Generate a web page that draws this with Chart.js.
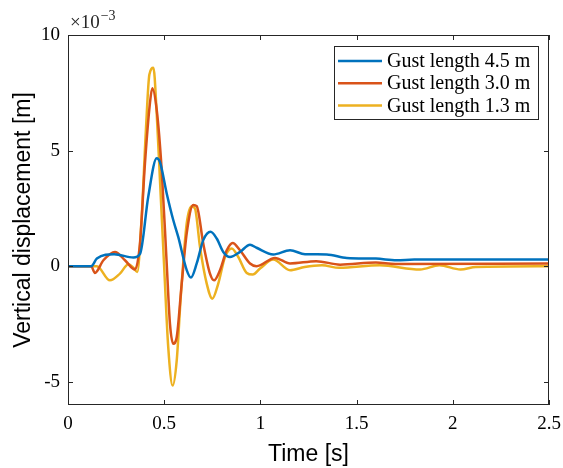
<!DOCTYPE html>
<html>
<head>
<meta charset="utf-8">
<script src="https://cdn.jsdelivr.net/npm/chart.js@4.4.0/dist/chart.umd.min.js"></script>
<style>
    html, body { margin: 0; padding: 0; background: #fff; }
    #wrap { width: 563px; height: 468px; }
</style>
</head>
<body>
<div id="wrap"><canvas id="chartGust"></canvas></div>
<script>
// значения в единицах 1e-3 м
const seriesNames = ['Gust length 4.5 m', 'Gust length 3.0 m', 'Gust length 1.3 m'];
const seriesColors = ['#0072BD', '#D95319', '#EDB120'];

const time45 = [0, 0.12, 0.15, 0.24, 0.34, 0.375, 0.417, 0.461, 0.478, 0.513, 0.547, 0.573, 0.617, 0.639, 0.669, 0.703, 0.741, 0.773, 0.807, 0.842, 0.894, 0.946, 0.98, 1.067, 1.154, 1.232, 1.345, 1.449, 1.6, 1.708, 1.8, 2.5];
const disp45 = [0, 0, 0.33, 0.52, 0.38, 0.55, 3.0, 4.67, 4.5, 3.15, 2.0, 1.27, -0.17, -0.49, 0.12, 1.13, 1.49, 1.2, 0.62, 0.4, 0.62, 0.93, 0.8, 0.51, 0.69, 0.52, 0.51, 0.36, 0.33, 0.26, 0.29, 0.29];

const time30 = [0, 0.12, 0.14, 0.184, 0.244, 0.296, 0.348, 0.374, 0.4, 0.426, 0.438, 0.461, 0.487, 0.513, 0.53, 0.547, 0.565, 0.591, 0.617, 0.651, 0.669, 0.703, 0.738, 0.759, 0.79, 0.825, 0.856, 0.894, 0.946, 0.98, 1.076, 1.154, 1.29, 1.414, 1.6, 1.7, 2.5];
const disp30 = [0, 0, -0.29, 0.26, 0.62, 0.26, -0.14, 0.98, 4.45, 7.06, 7.7, 6.77, 4.16, 0.12, -2.49, -3.35, -3.07, -0.75, 1.42, 2.65, 2.6, 0.98, -0.32, -0.61, -0.17, 0.69, 1.01, 0.69, 0.12, 0.0, 0.36, 0.12, 0.22, 0.07, 0.16, 0.1, 0.12];

const time13 = [0, 0.15, 0.218, 0.27, 0.314, 0.34, 0.36, 0.383, 0.405, 0.423, 0.444, 0.461, 0.478, 0.499, 0.521, 0.544, 0.565, 0.586, 0.617, 0.643, 0.66, 0.686, 0.721, 0.75, 0.781, 0.816, 0.851, 0.885, 0.929, 0.96, 0.998, 1.067, 1.154, 1.23, 1.32, 1.41, 1.62, 1.83, 1.93, 2.04, 2.12, 2.5];
const disp13 = [0, 0, -0.61, -0.32, 0.09, -0.06, -0.25, 2.14, 5.9, 8.29, 8.58, 6.62, 3.73, 0.12, -3.5, -5.16, -4.08, -1.33, 1.85, 2.6, 2.5, 0.84, -0.75, -1.4, -0.75, 0.4, 0.77, 0.4, -0.29, -0.36, -0.1, 0.29, -0.17, -0.03, 0.04, -0.07, 0.04, -0.14, 0.04, -0.14, -0.03, 0.0];

const xTicks = [0, 0.5, 1, 1.5, 2, 2.5];
const yTicks = [-5, 0, 5, 10];

const toPoints = (t, v) => t.map((x, i) => ({ x: x, y: v[i] }));

const serif = "'Liberation Serif', serif";
const sans = "'Liberation Sans', Arial, sans-serif";
const axisColor = '#262626';

// рамка, внутренние засечки, множитель и легенда
const matlabAxes = {
    id: 'matlabAxes',
    afterDraw(chart) {
        const ctx = chart.ctx;
        const a = chart.chartArea;
        const sx = chart.scales.x, sy = chart.scales.y;
        ctx.save();
        ctx.strokeStyle = axisColor;
        ctx.lineWidth = 1;
        ctx.strokeRect(a.left + 0.5, a.top + 0.5, a.right - a.left - 1, a.bottom - a.top - 1);
        ctx.beginPath();
        xTicks.forEach(v => {
            const p = Math.round(sx.getPixelForValue(v)) + 0.5;
            ctx.moveTo(p, a.bottom); ctx.lineTo(p, a.bottom - 5);
            ctx.moveTo(p, a.top); ctx.lineTo(p, a.top + 5);
        });
        yTicks.forEach(v => {
            const p = Math.round(sy.getPixelForValue(v)) + 0.5;
            ctx.moveTo(a.left, p); ctx.lineTo(a.left + 5, p);
            ctx.moveTo(a.right, p); ctx.lineTo(a.right - 5, p);
        });
        ctx.stroke();

        // множитель ×10^-3
        ctx.fillStyle = axisColor;
        ctx.textBaseline = 'alphabetic';
        ctx.textAlign = 'left';
        ctx.font = '19px ' + serif;
        ctx.fillText('\u00d710', a.left + 2, 28);
        const w = ctx.measureText('\u00d710').width;
        ctx.font = '14px ' + serif;
        ctx.fillText('\u22123', a.left + 3 + w, 20);

        // легенда
        const bx = 334, by = 46, bw = 204, bh = 73;
        ctx.fillStyle = '#fff';
        ctx.fillRect(bx, by, bw, bh);
        ctx.strokeStyle = axisColor;
        ctx.strokeRect(bx + 0.5, by + 0.5, bw, bh);
        ctx.font = '20px ' + serif;
        ctx.textBaseline = 'middle';
        seriesNames.forEach((name, i) => {
            const yy = 61 + i * 22.2;
            ctx.strokeStyle = seriesColors[i];
            ctx.lineWidth = 2.5;
            ctx.beginPath();
            ctx.moveTo(338, yy); ctx.lineTo(382, yy);
            ctx.stroke();
            ctx.fillStyle = '#000';
            ctx.fillText(name, 387, yy + 1);
        });
        ctx.restore();
    }
};

document.addEventListener('DOMContentLoaded', () => {
    new Chart(
        document.getElementById('chartGust'),
        {
            type: 'line',
            data: {
                datasets: [
                    { label: seriesNames[0], data: toPoints(time45, disp45), borderColor: seriesColors[0] },
                    { label: seriesNames[1], data: toPoints(time30, disp30), borderColor: seriesColors[1] },
                    { label: seriesNames[2], data: toPoints(time13, disp13), borderColor: seriesColors[2] }
                ].map(d => Object.assign(d, {
                    borderWidth: 2.5,
                    pointRadius: 0,
                    fill: false,
                    cubicInterpolationMode: 'monotone'
                }))
            },
            options: {
                responsive: true,
                maintainAspectRatio: false,
                animation: false,
                layout: { padding: { top: 35, right: 14, left: 0, bottom: 0 } },
                plugins: {
                    legend: { display: false },
                    tooltip: { enabled: false }
                },
                scales: {
                    x: {
                        type: 'linear',
                        min: 0,
                        max: 2.5,
                        afterBuildTicks: s => { s.ticks = xTicks.map(v => ({ value: v })); },
                        afterFit: s => { s.height = 63; s.paddingLeft = 0; s.paddingRight = 0; },
                        grid: { display: false, drawTicks: false },
                        border: { display: false },
                        ticks: {
                            color: '#000',
                            padding: 8,
                            maxRotation: 0,
                            font: { family: serif, size: 19 },
                            callback: v => String(v)
                        },
                        title: {
                            display: true,
                            text: 'Time [s]',
                            color: '#000',
                            font: { family: sans, size: 23 },
                            padding: { top: 11, bottom: 0 }
                        }
                    },
                    y: {
                        min: -6,
                        max: 10,
                        afterBuildTicks: s => { s.ticks = yTicks.map(v => ({ value: v })); },
                        afterFit: s => { s.width = 68; s.paddingTop = 0; s.paddingBottom = 0; },
                        grid: { display: false, drawTicks: false },
                        border: { display: false },
                        ticks: {
                            color: '#000',
                            padding: 8,
                            font: { family: serif, size: 19 },
                            callback: v => String(v)
                        },
                        title: {
                            display: true,
                            text: 'Vertical displacement [m]',
                            color: '#000',
                            font: { family: sans, size: 23 },
                            padding: { top: 10, bottom: 0 }
                        }
                    }
                }
            },
            plugins: [matlabAxes]
        }
    );
});
</script>
</body>
</html>
